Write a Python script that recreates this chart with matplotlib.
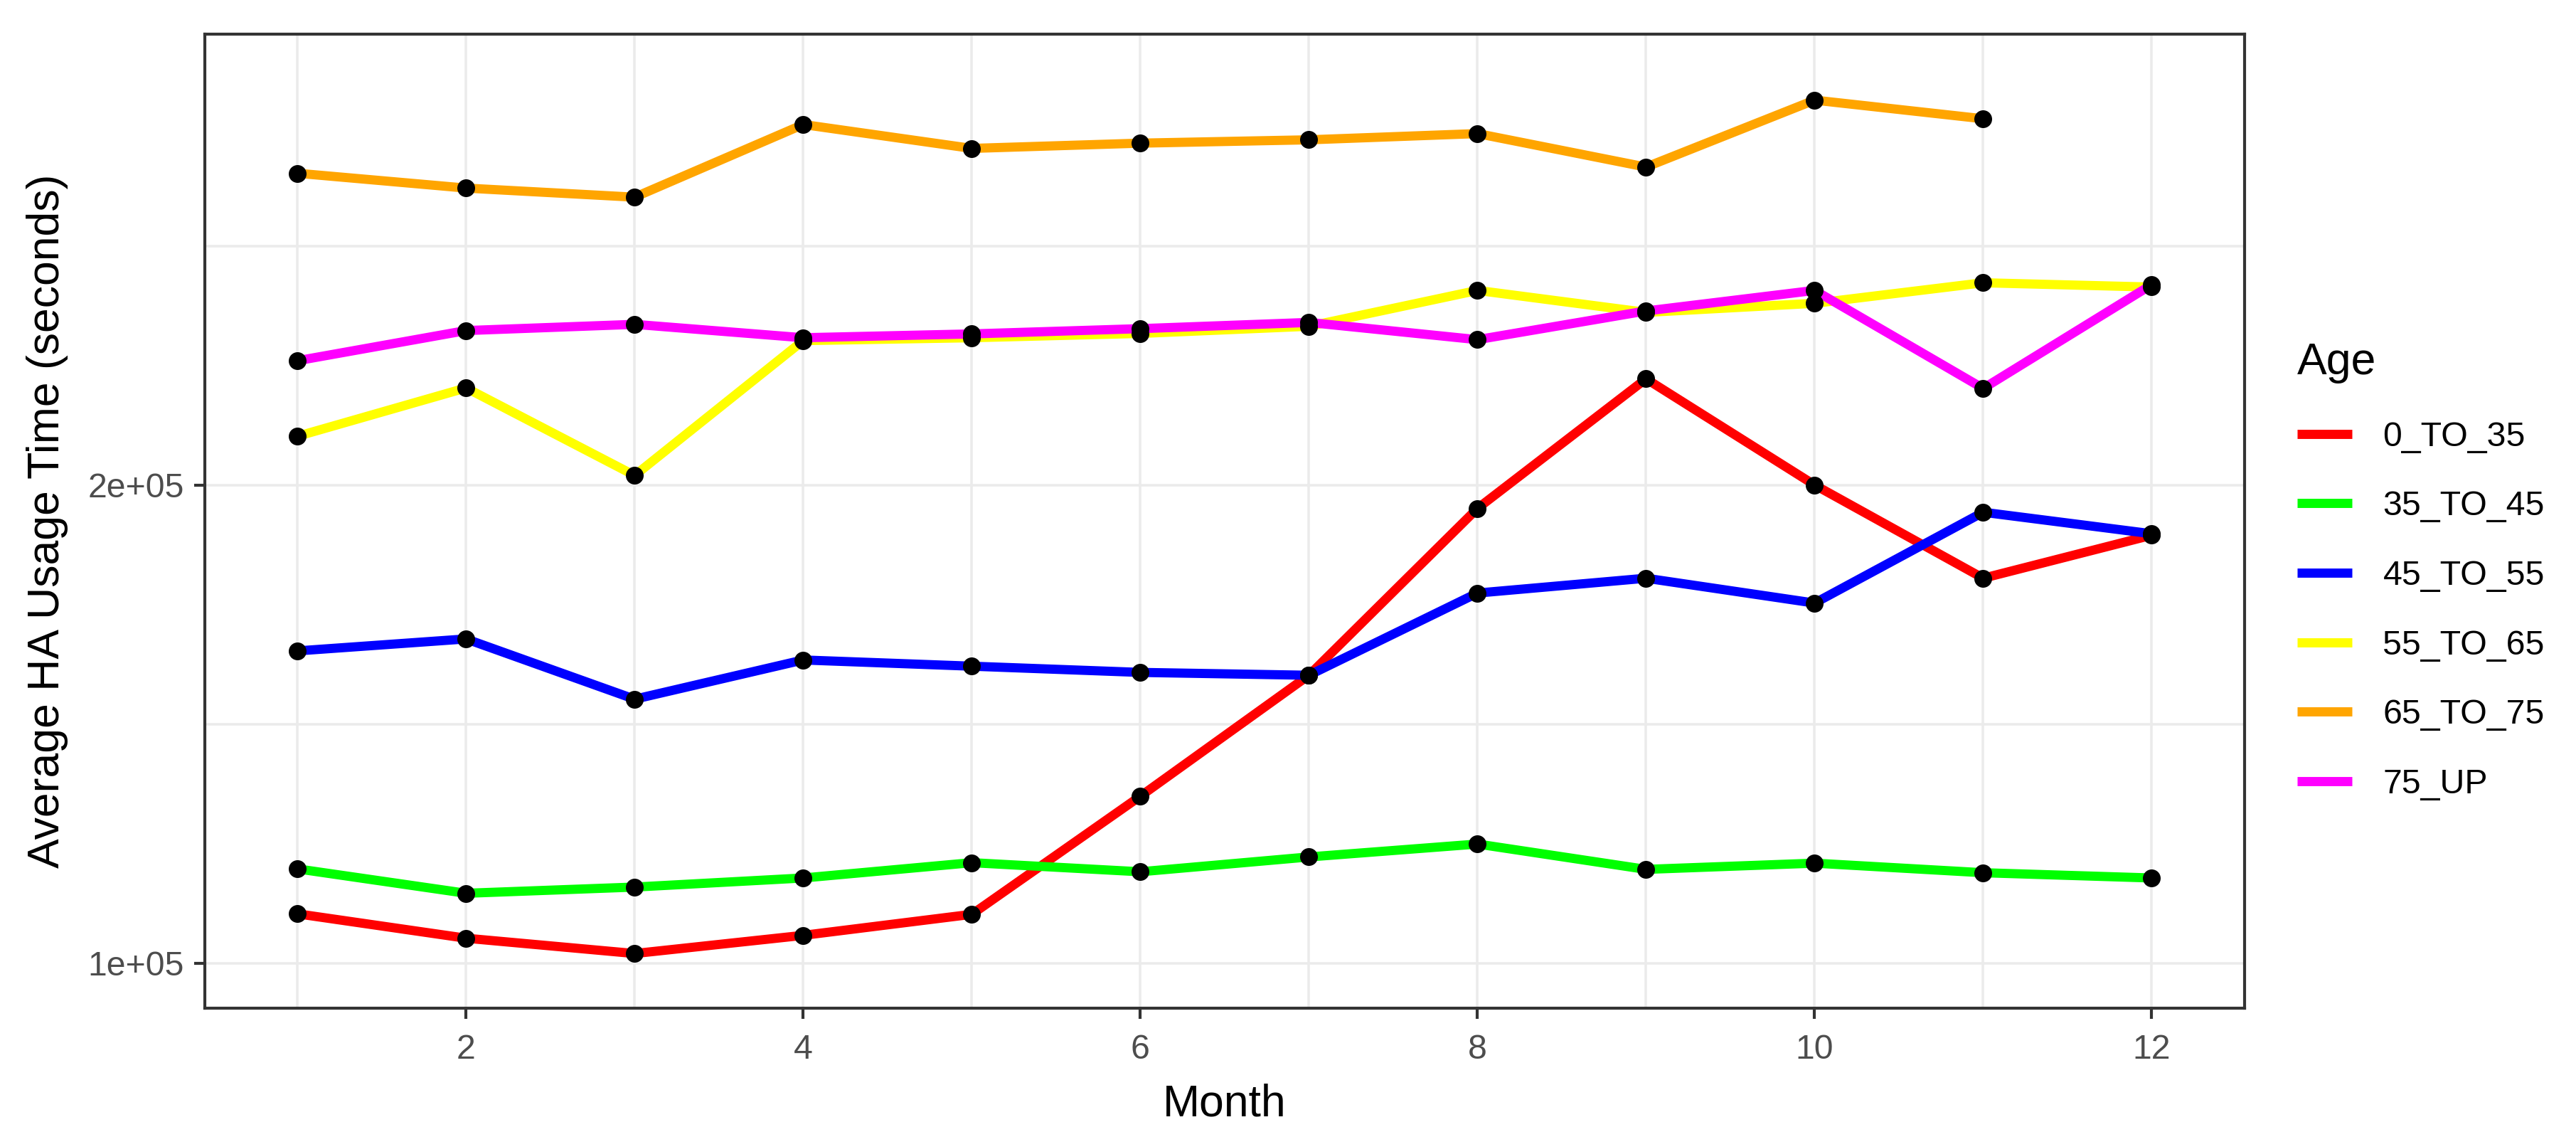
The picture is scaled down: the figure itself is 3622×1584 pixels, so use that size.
import numpy as np
import matplotlib.pyplot as plt
from matplotlib.lines import Line2D

plt.rcParams['font.family'] = ['Liberation Sans', 'DejaVu Sans']

# monthly average hearing-aid usage time per age group (seconds)
months = np.arange(1, 13)
age_groups = ["0_TO_35", "35_TO_45", "45_TO_55", "55_TO_65", "65_TO_75", "75_UP"]
line_colors = ["#FF0000", "#00FF00", "#0000FF", "#FFFF00", "#FFA500", "#FF00FF"]

usage_0_to_35 = [110300, 105200, 102000, 105800, 110200, 134900,
                 160200, 195100, 222200, 200000, 180500, 189500]
usage_35_to_45 = [119700, 114600, 115900, 117800, 121000, 119100,
                  122200, 124900, 119600, 120900, 118900, 117800]
usage_45_to_55 = [165300, 167800, 155200, 163400, 162100, 160800,
                  160200, 177400, 180500, 175300, 194300, 189800]
usage_55_to_65 = [210200, 220300, 202000, 230200, 230800, 231700,
                  233200, 240700, 236100, 238000, 242300, 241400]
usage_65_to_75 = [265200, 262100, 260200, 275400, 270400, 271500,
                  272200, 273500, 266500, 280500, 276600, np.nan]
usage_75_up = [226000, 232300, 233600, 230800, 231600, 232700,
               234000, 230400, 236400, 240700, 220200, 241900]

series = [usage_0_to_35, usage_35_to_45, usage_45_to_55,
          usage_55_to_65, usage_65_to_75, usage_75_up]

fig = plt.figure(figsize=(3622 / 300, 1584 / 300), dpi=300)
ax = fig.add_axes([0.0795, 0.1054, 0.7918, 0.8643])

for vals, c in zip(series, line_colors):
    ax.plot(months, vals, color=c, lw=3.1, solid_capstyle='butt', zorder=3)
for vals in series:
    ax.plot(months, vals, 'o', color='black', ms=5, zorder=4)

ax.set_xlim(0.45, 12.55)
ax.set_ylim(90560, 294300)
ax.set_xticks([2, 4, 6, 8, 10, 12])
ax.set_xticks([1, 3, 5, 7, 9, 11], minor=True)
ax.set_yticks([1e5, 2e5])
ax.set_yticklabels(['1e+05', '2e+05'])
ax.set_yticks([1.5e5, 2.5e5], minor=True)

ax.grid(which='both', color='#EBEBEB', lw=0.85)
ax.set_axisbelow(True)
ax.tick_params(which='minor', length=0)
ax.tick_params(which='major', length=3.6, width=1.0, color='#333333',
               labelcolor='#4D4D4D', labelsize=11.6)
ax.tick_params(axis='x', pad=5)
ax.tick_params(axis='y', pad=3.4)
for s in ax.spines.values():
    s.set_color('#333333')
    s.set_linewidth(1.0)

ax.set_xlabel('Month', fontsize=15, labelpad=6)
ax.set_ylabel('Average HA Usage Time (seconds)', fontsize=15, labelpad=6.6)

handles = [Line2D([], [], color=c, lw=3.1, solid_capstyle='butt') for c in line_colors]
fig.legend(handles, age_groups, loc='upper left', bbox_to_anchor=(0.8918, 0.697),
           frameon=False, title='Age', title_fontsize=15, fontsize=11.6,
           alignment='left', handlelength=1.6, handletextpad=0.89,
           labelspacing=1.09, borderpad=0, borderaxespad=0)

fig.savefig('out.png', dpi=300)
